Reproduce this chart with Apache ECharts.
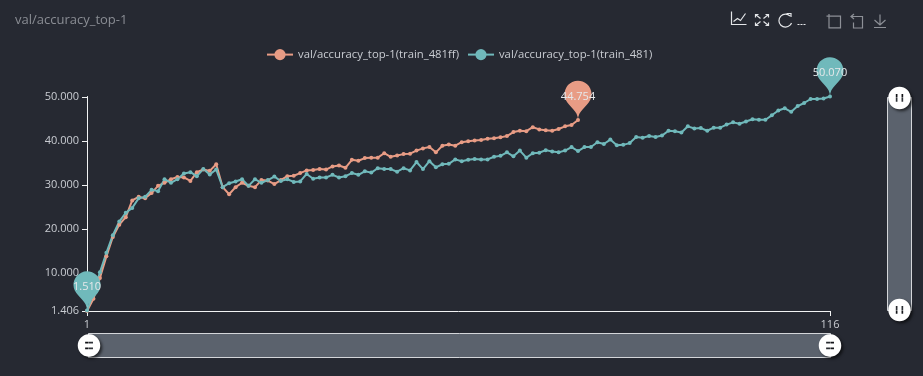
<!DOCTYPE html>
<html>
<head>
<meta charset="utf-8">
<style>
  html, body { margin: 0; padding: 0; background: #262932; }
  #main { width: 923px; height: 376px; }
</style>
<script src="https://cdn.jsdelivr.net/npm/echarts@6/dist/echarts.min.js"></script>
</head>
<body>
<div id="main"></div>
<script>
  var chartTitle = 'val/accuracy_top-1'
  var nameA = 'val/accuracy_top-1(train_481ff)'
  var nameB = 'val/accuracy_top-1(train_481)'

  // 横轴 1..116
  var steps = []
  for (var s = 1; s <= 116; s++) steps.push(String(s))

  var yTicks = [1.406, 10, 20, 30, 40, 50]

  var valuesA = [
    1.406, 4.2, 8.9, 13.8, 18.2, 21.0, 22.7, 26.5, 27.3, 27.0,
    28.2, 29.8, 30.5, 31.3, 31.8, 31.7, 30.9, 32.9, 33.5, 33.2,
    34.7, 29.5, 27.9, 29.5, 30.5, 29.8, 29.5, 31.1, 31.0, 30.2,
    31.1, 32.0, 32.1, 32.7, 33.3, 33.4, 33.6, 33.5, 34.2, 34.4,
    33.9, 35.7, 35.5, 36.1, 36.2, 36.2, 37.2, 36.4, 36.7, 37.0,
    37.1, 37.8, 38.3, 38.6, 37.4, 38.9, 39.2, 38.9, 39.7, 39.9,
    40.1, 40.2, 40.5, 40.6, 40.8, 41.1, 42.0, 42.3, 42.2, 43.1,
    42.6, 42.4, 42.3, 42.7, 43.3, 43.6, 44.754
  ]

  var valuesB = [
    1.51, 5.5, 10.2, 14.6, 18.6, 21.7, 23.7, 24.8, 27.0, 27.3,
    28.9, 28.6, 31.3, 30.5, 31.3, 32.6, 32.9, 32.0, 33.6, 32.4,
    33.5, 29.5, 30.4, 30.8, 31.3, 29.8, 31.3, 30.5, 31.1, 31.9,
    30.9, 31.3, 30.7, 30.8, 32.5, 31.4, 31.7, 31.7, 32.3, 31.7,
    32.0, 32.7, 32.3, 33.1, 32.8, 33.8, 33.6, 33.6, 33.0, 33.8,
    33.3, 35.2, 33.6, 35.4, 34.0, 34.7, 34.8, 35.8, 35.4, 35.7,
    35.9, 35.8, 35.8, 36.4, 36.6, 37.4, 36.5, 37.8, 36.2, 37.2,
    37.3, 37.9, 37.6, 37.4, 37.8, 38.6, 37.7, 38.6, 38.6, 39.7,
    39.3, 40.3, 39.0, 39.1, 39.5, 40.9, 40.7, 41.1, 40.9, 41.2,
    42.3, 42.2, 41.9, 43.3, 42.8, 42.9, 42.3, 43.0, 43.0, 43.7,
    44.2, 43.9, 44.4, 44.9, 44.8, 44.8, 45.8, 46.9, 47.4, 46.6,
    47.9, 48.6, 49.5, 49.5, 49.6, 50.07
  ]

  var fontName = '"Open Sans", "Noto Sans", sans-serif'
  var textColor = '#c9ccd2'
  var colorA = '#e89c85'
  var colorB = '#70b9bb'
  var handlePath = 'path://M10.7,11.9H9.3c-4.9,0.3-8.8,4.4-8.8,9.4c0,5,3.9,9.1,8.8,9.4h1.3c4.9-0.3,8.8-4.4,8.8-9.4C19.5,16.3,15.6,12.2,10.7,11.9z M13.3,24.4H6.7V23h6.6V24.4z M13.3,19.6H6.7v-1.4h6.6V19.6z'

  // 工具栏图标都画在 22x22 的格子里，前面的 M 把包围盒撑满
  let toolIcon = function (d) {
    return 'path://M0 0M22 22M' + d
  }

  let makeSeries = function (name, data, color, pins) {
    return {
      name: name,
      type: 'line',
      data: data,
      symbol: 'circle',
      symbolSize: 4,
      lineStyle: { color: color, width: 2 },
      itemStyle: { color: color },
      markPoint: {
        symbol: 'pin',
        symbolSize: 45,
        itemStyle: { color: color },
        label: {
          color: '#e6e8ea',
          fontSize: 11,
          fontFamily: fontName,
          formatter: function (p) { return p.value.toFixed(3) }
        },
        data: pins
      }
    }
  }

  let makeZoom = function (extra) {
    return Object.assign({
      type: 'slider',
      start: 0,
      end: 100,
      filterMode: 'none',
      showDetail: false,
      showDataShadow: false,
      brushSelect: false,
      moveHandleSize: 0,
      backgroundColor: 'rgba(0,0,0,0)',
      fillerColor: 'rgba(135,145,158,0.55)',
      borderColor: '#d4d6da',
      handleIcon: handlePath,
      handleSize: '90%',
      handleStyle: {
        color: '#fff',
        borderWidth: 0,
        shadowBlur: 3,
        shadowColor: 'rgba(0,0,0,0.6)',
        shadowOffsetX: 2,
        shadowOffsetY: 2
      }
    }, extra)
  }

  var dimIcon = { borderColor: '#8d9097' }

  var option = {
    animation: false,
    backgroundColor: '#262932',
    color: [colorA, colorB],
    title: {
      text: chartTitle,
      left: 10,
      top: 9,
      textStyle: { color: '#8a8d94', fontSize: 13, fontWeight: 'normal', fontFamily: fontName }
    },
    legend: {
      top: 44,
      left: 261,
      itemWidth: 26,
      itemHeight: 14,
      itemGap: 8,
      textStyle: { color: textColor, fontSize: 11.3, fontFamily: fontName }
    },
    toolbox: {
      right: 18,
      top: -9,
      itemSize: 22,
      itemGap: -4,
      iconStyle: { borderColor: '#e4e6e9', borderWidth: 1.2 },
      feature: {
        myLine: {
          show: true,
          title: '',
          icon: toolIcon('4 3V16H19M6 13L10 10L13 12L18 5'),
          onclick: function () {}
        },
        myFull: {
          show: true,
          title: '',
          icon: toolIcon('5 6L10 10M5 9V6H8M18 6L13 10M15 6H18V9M5 17L10 13M5 14V17H8M18 17L13 13M15 17H18V14'),
          onclick: function () {}
        },
        restore: {
          title: '',
          icon: toolIcon('16.5 7.5A6.5 6.5 0 1 0 18 14.5M13 5H17.5V8.5')
        },
        myMore: {
          show: true,
          title: '',
          icon: toolIcon('1 16H3M4 16H6M7 16H9'),
          onclick: function () {}
        },
        dataZoom: {
          yAxisIndex: 'none',
          title: { zoom: '', back: '' },
          icon: {
            zoom: toolIcon('7 7.7H21V19.3H9.5V5.5'),
            back: toolIcon('11 14V19.5H20V8H9M11.5 5.5L8.5 8L11.5 10.5')
          },
          iconStyle: dimIcon
        },
        saveAsImage: {
          title: '',
          icon: toolIcon('14.5 6V16M9 11.5L14.5 16.5L20 11.5M8.5 19H20.5'),
          iconStyle: dimIcon
        }
      }
    },
    grid: { left: 87, right: 93, top: 96.5, bottom: 65 },
    xAxis: {
      type: 'category',
      boundaryGap: false,
      data: steps,
      axisLine: { lineStyle: { color: '#f2f3f4' } },
      axisTick: { alignWithLabel: true, lineStyle: { color: '#f2f3f4' }, interval: function (i) { return i === 0 || i === steps.length - 1 } },
      axisLabel: {
        color: textColor,
        fontSize: 11,
        fontFamily: fontName,
        showMinLabel: true,
        showMaxLabel: true,
        interval: function (i) { return i === 0 || i === steps.length - 1 }
      },
      splitLine: { show: false }
    },
    yAxis: {
      type: 'value',
      min: 1.406,
      max: 50.07,
      axisLine: { show: true, lineStyle: { color: '#f2f3f4' } },
      axisTick: { show: true, customValues: yTicks, lineStyle: { color: '#f2f3f4' } },
      axisLabel: {
        color: textColor,
        fontSize: 11,
        fontFamily: fontName,
        customValues: yTicks,
        formatter: function (v) { return v.toFixed(3) }
      },
      splitLine: { show: false }
    },
    dataZoom: [
      makeZoom({ xAxisIndex: 0, left: 87, right: 93, height: 25, bottom: 18 }),
      makeZoom({ yAxisIndex: 0, orient: 'vertical', left: 887, width: 25, top: 97, bottom: 65 })
    ],
    series: [
      makeSeries(nameA, valuesA, colorA, [{ type: 'max' }]),
      makeSeries(nameB, valuesB, colorB, [{ type: 'max' }, { type: 'min' }])
    ]
  }

  let myChart = echarts.init(document.getElementById('main'))
  myChart.setOption(option)
</script>
</body>
</html>
